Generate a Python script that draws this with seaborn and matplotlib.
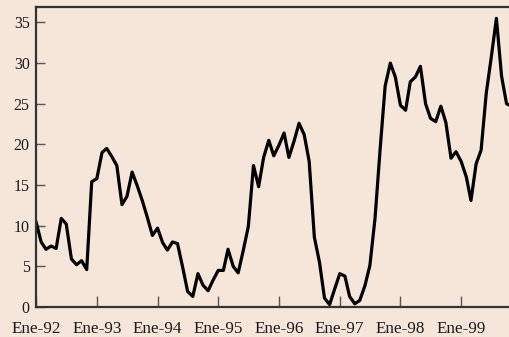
import matplotlib
matplotlib.use("Agg")
import matplotlib.pyplot as plt
import pandas as pd
import seaborn as sns

# Monthly series, Ene-92 .. Nov-99.
values = [
    10.5, 8.0, 7.1, 7.5, 7.2, 10.9, 10.2, 5.9, 5.2, 5.7, 4.6, 15.4,
    15.8, 19.0, 19.5, 18.5, 17.4, 12.6, 13.6, 16.6, 14.9, 13.1, 11.0, 8.8,
    9.7, 7.9, 7.0, 8.0, 7.8, 4.9, 1.9, 1.3, 4.1, 2.7, 2.0, 3.3,
    4.5, 4.5, 7.1, 5.0, 4.2, 7.0, 9.9, 17.4, 14.8, 18.4, 20.5, 18.6,
    19.9, 21.4, 18.4, 20.4, 22.6, 21.2, 17.9, 8.6, 5.5, 1.1, 0.3, 2.2,
    4.1, 3.8, 1.3, 0.4, 0.8, 2.6, 5.1, 10.9, 19.5, 27.2, 30.0, 28.3,
    24.8, 24.2, 27.7, 28.3, 29.6, 25.0, 23.2, 22.8, 24.7, 22.7, 18.3, 19.1,
    17.9, 16.0, 13.1, 17.6, 19.3, 26.3, 30.7, 35.5, 28.4, 25.0, 24.7,
]
start_month = "1992-01-01"
tick_years = [1992, 1993, 1994, 1995, 1996, 1997, 1998, 1999]
tick_labels = ["Ene-92", "Ene-93", "Ene-94", "Ene-95", "Ene-96", "Ene-97", "Ene-98", "Ene-99"]
y_ticks = [0, 5, 10, 15, 20, 25, 30, 35]

BG = "#f5e6d9"

sns.set_theme(style="ticks", rc={"axes.facecolor": BG, "figure.facecolor": BG})
plt.rcParams["font.family"] = ["Liberation Serif", "DejaVu Serif"]

df = pd.DataFrame({
    "fecha": pd.date_range(start_month, periods=len(values), freq="MS"),
    "valor": values,
})

fig = plt.figure(figsize=(5.1, 3.37), dpi=100)
ax = fig.add_axes([36 / 510, 30 / 337, 1 - 36 / 510, 300 / 337])
sns.lineplot(data=df, x="fecha", y="valor", color="black", linewidth=2.3, ax=ax)

x0 = pd.Timestamp(start_month)
ax.set_xlim(x0, x0 + pd.Timedelta(days=7.805 * 365.25))
ax.set_xticks(pd.to_datetime([f"{y}-01-01" for y in tick_years]))
ax.set_xticklabels(tick_labels)
ax.set_ylim(0, 36.9)
ax.set_yticks(y_ticks)
ax.set_xlabel("")
ax.set_ylabel("")

ax.tick_params(axis="both", direction="in", width=1, color="#555555",
               labelcolor="#1a1a1a")
ax.tick_params(axis="x", length=8, pad=10, labelsize=12.3)
ax.tick_params(axis="y", length=6.5, pad=4.5, labelsize=11.5)

for side in ["left", "bottom", "top"]:
    ax.spines[side].set_visible(True)
    ax.spines[side].set_color("#333333")
    ax.spines[side].set_linewidth(1.6)
ax.spines["right"].set_visible(False)

fig.savefig("out.png", dpi=100, facecolor=BG)
plt.close(fig)
